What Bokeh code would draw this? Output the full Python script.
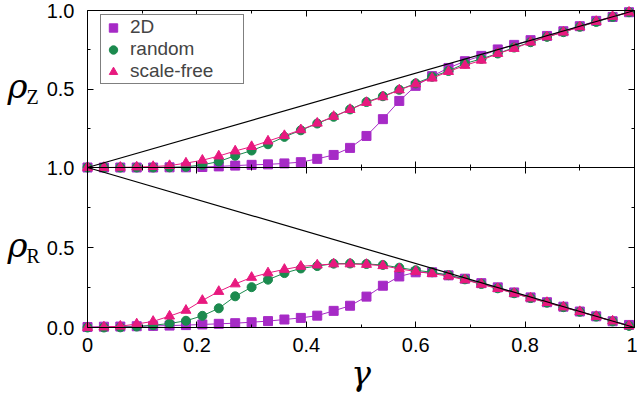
from bokeh.plotting import figure
from bokeh.models import (Range1d, LinearAxis, FixedTicker, PrintfTickFormatter,
                          CustomJSTickFormatter, Label, Legend, LegendItem, BoxAnnotation)
from bokeh.embed import file_html
from bokeh.resources import INLINE

# ---------------- data ----------------
gamma = [0.00, 0.03, 0.06, 0.09, 0.12, 0.15, 0.18, 0.21, 0.24, 0.27, 0.30, 0.33,
         0.36, 0.39, 0.42, 0.45, 0.48, 0.51, 0.54, 0.57, 0.60, 0.63, 0.66, 0.69,
         0.72, 0.75, 0.78, 0.81, 0.84, 0.87, 0.90, 0.93, 0.96, 0.99]

# top panel: rho_Z
rz_2d = [0.0, 0.0, 0.0, 0.0, 0.0, 0.001, 0.001, 0.003, 0.007, 0.012, 0.017, 0.020,
         0.026, 0.034, 0.055, 0.080, 0.125, 0.201, 0.308, 0.424, 0.520, 0.582,
         0.634, 0.677, 0.711, 0.752, 0.781, 0.811, 0.838, 0.868, 0.900, 0.934,
         0.959, 0.989]
rz_random = [0.0, 0.0, 0.0, 0.0, 0.0, 0.001, 0.004, 0.017, 0.038, 0.075, 0.108,
             0.148, 0.195, 0.237, 0.280, 0.323, 0.370, 0.417, 0.454, 0.495, 0.536,
             0.578, 0.615, 0.662, 0.692, 0.726, 0.764, 0.798, 0.832, 0.862, 0.896,
             0.927, 0.959, 0.989]
rz_sf = [0.0, 0.0, 0.001, 0.003, 0.006, 0.012, 0.028, 0.046, 0.073, 0.105, 0.133,
         0.168, 0.203, 0.240, 0.282, 0.325, 0.369, 0.414, 0.450, 0.494, 0.532,
         0.569, 0.611, 0.650, 0.683, 0.726, 0.758, 0.798, 0.832, 0.862, 0.896,
         0.930, 0.962, 0.989]

# bottom panel: rho_R
rr_2d = [0.003, 0.005, 0.006, 0.008, 0.010, 0.012, 0.015, 0.019, 0.023, 0.027,
         0.033, 0.040, 0.050, 0.060, 0.074, 0.104, 0.136, 0.193, 0.261, 0.319,
         0.345, 0.345, 0.326, 0.305, 0.277, 0.251, 0.219, 0.188, 0.158, 0.130,
         0.100, 0.070, 0.039, 0.016]
rr_random = [0.0, 0.0, 0.001, 0.006, 0.014, 0.025, 0.042, 0.073, 0.120, 0.195,
             0.252, 0.299, 0.340, 0.369, 0.384, 0.399, 0.400, 0.397, 0.391, 0.374,
             0.358, 0.345, 0.327, 0.301, 0.272, 0.245, 0.214, 0.184, 0.155, 0.127,
             0.098, 0.068, 0.038, 0.010]
rr_sf = [0.0, 0.003, 0.008, 0.022, 0.038, 0.071, 0.107, 0.169, 0.225, 0.272,
         0.313, 0.341, 0.363, 0.382, 0.390, 0.397, 0.397, 0.394, 0.386, 0.367,
         0.350, 0.337, 0.321, 0.298, 0.270, 0.243, 0.213, 0.184, 0.156, 0.128,
         0.099, 0.069, 0.040, 0.010]

# reference lines rho_Z = gamma, rho_R = 1 - gamma
diag_x = [0.0, 1.0]
diag_z = [0.0, 1.0]
diag_r = [1.0, 0.0]

series_names = ["2D", "random", "scale-free"]
x_ticks = [0.0, 0.2, 0.4, 0.6, 0.8, 1.0]
x_minor = [0.1, 0.3, 0.5, 0.7, 0.9]
y_ticks_bottom = [0.0, 0.5, 1.0]
y_ticks_top = [0.5, 1.0]
y_minor = [0.25, 0.75]

# ---------------- layout geometry (pixels) ----------------
W, H = 637, 398
PX_L, PX_R = 87, 634          # gamma = 0 and gamma = 1
BOT_0, MID, TOP_1 = 327, 167, 10   # y pixels (from top): bottom-panel 0, panel seam, top-panel 1

PURPLE = "#a62ac6"
GREEN = "#1b8a4e"
PINK = "#e8197f"
SANS = "Liberation Sans"
SERIF = "Liberation Serif"
GREEK = "DejaVu Serif"

sx = PX_R - PX_L
sb = BOT_0 - MID
st = MID - TOP_1
x_range = Range1d(-PX_L / sx, 1 + (W - PX_R) / sx)
y_range = Range1d(-(H - BOT_0) / sb, -(H - BOT_0) / sb + H / sb)
top_range = Range1d(-(H - MID) / st, -(H - MID) / st + H / st)

p = figure(width=W, height=H, x_range=x_range, y_range=y_range,
           output_backend="svg", toolbar_location=None,
           x_axis_location=None, y_axis_location=None,
           min_border=0, min_border_left=0, min_border_right=0,
           min_border_top=0, min_border_bottom=0)
p.extra_y_ranges = {"top": top_range}
p.grid.visible = False
p.outline_line_color = None
p.background_fill_color = "white"
p.border_fill_color = "white"

blank = CustomJSTickFormatter(code="return '';")


def make_axis(place, ticks, minor, loc, labelled, rng="default", fmt=None,
              tick_out=0, minor_out=0, standoff=12):
    kw = {}
    if rng != "default":
        kw["y_range_name"] = rng
    ax = LinearAxis(ticker=FixedTicker(ticks=ticks, minor_ticks=minor),
                    formatter=fmt if labelled else blank, fixed_location=loc, **kw)
    ax.major_tick_in = 6
    ax.major_tick_out = tick_out
    ax.minor_tick_in = 3
    ax.minor_tick_out = minor_out
    ax.axis_line_color = None
    ax.major_tick_line_color = "black"
    ax.minor_tick_line_color = "black"
    ax.major_label_text_font = SANS
    ax.major_label_text_font_size = "20px"
    ax.major_label_text_color = "black"
    ax.major_label_standoff = standoff
    p.add_layout(ax, place)
    return ax


yfmt = PrintfTickFormatter(format="%.1f")
xfmt = CustomJSTickFormatter(code="return tick.toString();")

# left (labelled) and right (mirrored) y ticks for both panels
make_axis("left", y_ticks_bottom, y_minor, 0.0, True, fmt=yfmt, standoff=13)
make_axis("left", y_ticks_top, y_minor, 0.0, True, rng="top", fmt=yfmt, standoff=13)
make_axis("right", y_ticks_bottom, y_minor, 1.0, False)
make_axis("right", y_ticks_top, y_minor, 1.0, False, rng="top")
# x ticks: bottom (labelled), seam (both ways), top
make_axis("below", x_ticks, x_minor, 0.0, True, fmt=xfmt, standoff=10)
make_axis("below", x_ticks, x_minor, 1.0, False, tick_out=6, minor_out=3)
make_axis("above", x_ticks, x_minor, 1.0, False, rng="top")

# panel frames
p.add_layout(BoxAnnotation(left=0, right=1, bottom=0, top=1, fill_alpha=0,
                           line_color="black", line_width=1, line_alpha=1))
p.add_layout(BoxAnnotation(left=0, right=1, bottom=0, top=1, y_range_name="top",
                           fill_alpha=0, line_color="black", line_width=1, line_alpha=1))

# ---------------- glyphs ----------------
def series(y, color, marker, size, rng=None):
    kw = dict(y_range_name=rng) if rng else {}
    p.line(gamma, y, line_color=color, line_width=1, **kw)
    return p.scatter(gamma, y, marker=marker, size=size, fill_color=color,
                     line_color=color, **kw)

sq = series(rz_2d, PURPLE, "square", 9, "top")
ci = series(rz_random, GREEN, "circle", 9, "top")
tr = series(rz_sf, PINK, "triangle", 10, "top")
series(rr_2d, PURPLE, "square", 9)
series(rr_random, GREEN, "circle", 9)
series(rr_sf, PINK, "triangle", 10)

p.line(diag_x, diag_z, y_range_name="top", line_color="black", line_width=1.2)
p.line(diag_x, diag_r, line_color="black", line_width=1.2)

# ---------------- axis titles ----------------
def greek(txt, sub, rng):
    kw = dict(y_range_name=rng) if rng else {}
    p.add_layout(Label(x=0.0, y=0.5, text=txt, x_offset=-80, y_offset=3,
                       text_font=GREEK, text_font_style="italic", text_font_size="34px",
                       text_align="left", text_baseline="alphabetic",
                       text_color="black", **kw))
    p.add_layout(Label(x=0.0, y=0.5, text=sub, x_offset=-61, y_offset=-8,
                       text_font=SERIF, text_font_size="20px",
                       text_align="left", text_baseline="alphabetic",
                       text_color="black", **kw))

greek("ρ", "Z", "top")
greek("ρ", "R", None)

p.add_layout(Label(x=0.5, y=0.0, text="γ", y_offset=-46, text_font=GREEK,
                   text_font_style="italic", text_font_size="33px",
                   text_align="center", text_baseline="alphabetic", text_color="black"))

# ---------------- legend ----------------
legend = Legend(items=[LegendItem(label=series_names[0], renderers=[sq]),
                       LegendItem(label=series_names[1], renderers=[ci]),
                       LegendItem(label=series_names[2], renderers=[tr])],
                location=(100, H - 18 - 66), margin=0, padding=1, spacing=0,
                label_height=21, glyph_height=21, glyph_width=22, label_standoff=6,
                label_width=112,
                label_text_font=SANS, label_text_font_size="19px",
                border_line_color="black", border_line_width=1,
                background_fill_color="white", background_fill_alpha=1)
p.add_layout(legend)

open("out.html", "w").write(file_html(p, INLINE))
